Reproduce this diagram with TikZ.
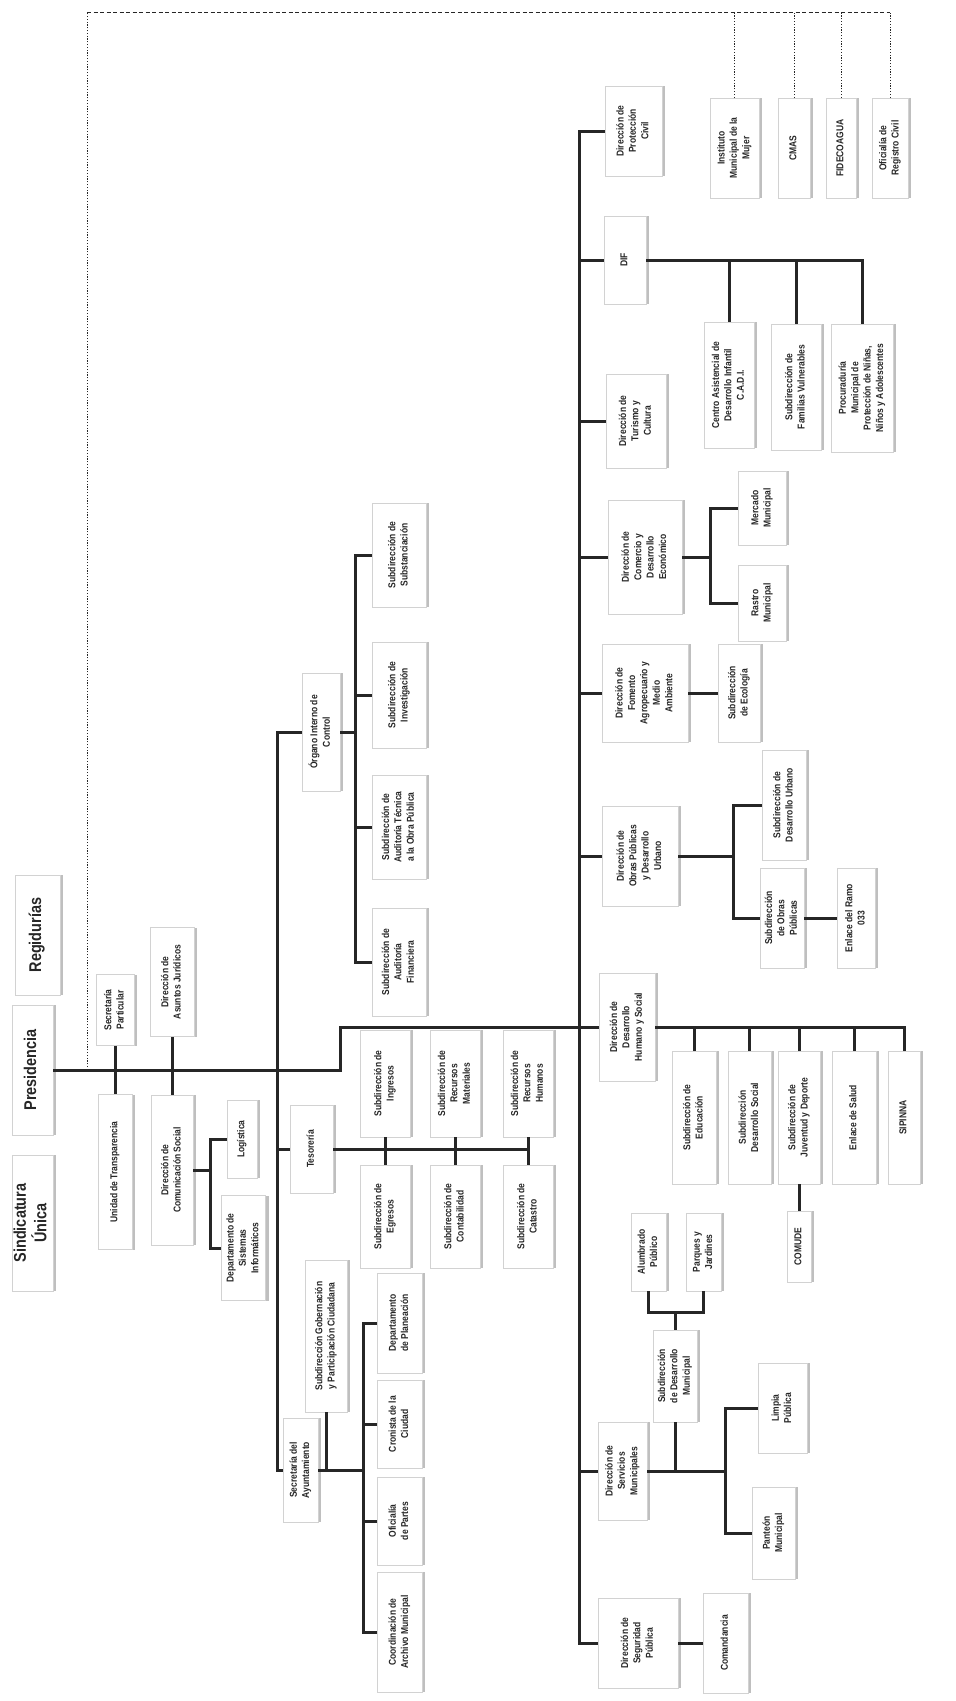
\documentclass[tikz,border=0pt]{standalone}
\usepackage{graphicx}
\usepackage{fontspec}
\setmainfont{Liberation Sans}[FakeStretch=0.85]
\usetikzlibrary{shadows}
\renewcommand{\arraystretch}{0.92}
\newcommand{\vtxt}[1]{\rotatebox{90}{\begin{tabular}{@{}c@{}}#1\end{tabular}}}

\begin{document}
\begin{tikzpicture}[x=1pt,y=-1pt,
    unit/.style={draw=gray!35, line width=0.5pt, fill=white, inner sep=0pt,
      font=\bfseries\fontsize{10}{13.5}\selectfont, text=black!85,
      drop shadow={shadow xshift=3pt, shadow yshift=0pt, fill=gray!50, opacity=1}},
    bigunit/.style={unit, font=\bfseries\fontsize{17}{19.5}\selectfont},
    link/.style={line width=3pt, black!85},
    dashlink/.style={line width=0.8pt, black!85, dash pattern=on 4pt off 2.5pt},
    dotlink/.style={line width=0.9pt, black!85, dash pattern=on 1.2pt off 1.6pt}]
    \useasboundingbox (0,0) rectangle (956,1701);

    % Presidencia, Sindicatura, Regidurias
    \node[bigunit, minimum width=41, minimum height=136] (sindicatura) at (32.5,1223) {\vtxt{Sindicatura\\Única}};
    \node[bigunit, minimum width=41, minimum height=130] (presidencia) at (32.5,1070) {\vtxt{Presidencia}};
    \node[bigunit, minimum width=45, minimum height=120] (regidurias) at (37.5,935) {\vtxt{Regidurías}};

    % staff units
    \node[unit, minimum width=38, minimum height=71] (secpart) at (115,1010) {\vtxt{Secretaría\\Particular}};
    \node[unit, minimum width=34, minimum height=155] (transparencia) at (115,1172) {\vtxt{Unidad de Transparencia}};
    \node[unit, minimum width=44, minimum height=109] (juridicos) at (172,982) {\vtxt{Dirección de\\Asuntos Jurídicos}};
    \node[unit, minimum width=42, minimum height=150] (comsocial) at (172,1170) {\vtxt{Dirección de\\Comunicación Social}};
    \node[unit, minimum width=30, minimum height=78] (logistica) at (242,1139) {\vtxt{Logística}};
    \node[unit, minimum width=44, minimum height=105] (sistemas) at (243.5,1248) {\vtxt{Departamento de\\Sistemas\\Informáticos}};

    % Tesoreria
    \node[unit, minimum width=43, minimum height=88] (tesoreria) at (311.5,1149) {\vtxt{Tesorería}};
    \node[unit, minimum width=50, minimum height=107] (ingresos) at (385,1083.5) {\vtxt{Subdirección de\\Ingresos}};
    \node[unit, minimum width=50, minimum height=103] (egresos) at (385,1216.5) {\vtxt{Subdirección de\\Egresos}};
    \node[unit, minimum width=50, minimum height=107] (rmateriales) at (455,1083.5) {\vtxt{Subdirección de\\Recursos\\Materiales}};
    \node[unit, minimum width=50, minimum height=103] (contabilidad) at (455,1216.5) {\vtxt{Subdirección de\\Contabilidad}};
    \node[unit, minimum width=50, minimum height=107] (rhumanos) at (528,1083.5) {\vtxt{Subdirección de\\Recursos\\Humanos}};
    \node[unit, minimum width=50, minimum height=103] (catastro) at (528,1216.5) {\vtxt{Subdirección de\\Catastro}};

    % Organo Interno de Control
    \node[unit, minimum width=38, minimum height=118] (organo) at (321,732) {\vtxt{Órgano Interno de\\Control}};
    \node[unit, minimum width=54, minimum height=104] (substanciacion) at (399,555) {\vtxt{Subdirección de\\Substanciación}};
    \node[unit, minimum width=54, minimum height=106] (investigacion) at (399,695) {\vtxt{Subdirección de\\Investigación}};
    \node[unit, minimum width=54, minimum height=104] (tecnica) at (399,827) {\vtxt{Subdirección de\\Auditoría Técnica\\a la Obra Pública}};
    \node[unit, minimum width=54, minimum height=108] (financiera) at (399,962) {\vtxt{Subdirección de\\Auditoría\\Financiera}};

    % Secretaria del Ayuntamiento
    \node[unit, minimum width=35, minimum height=104] (secayto) at (300.5,1470) {\vtxt{Secretaría del\\Ayuntamiento}};
    \node[unit, minimum width=42, minimum height=152] (gobernacion) at (326,1336) {\vtxt{Subdirección Gobernación\\y Participación Ciudadana}};
    \node[unit, minimum width=45, minimum height=100] (planeacion) at (399.5,1323) {\vtxt{Departamento\\de Planeación}};
    \node[unit, minimum width=45, minimum height=88] (cronista) at (399.5,1424) {\vtxt{Cronista de la\\Ciudad}};
    \node[unit, minimum width=45, minimum height=88] (oficpartes) at (399.5,1521) {\vtxt{Oficialía\\de Partes}};
    \node[unit, minimum width=45, minimum height=120] (archivo) at (399.5,1632) {\vtxt{Coordinación de\\Archivo Municipal}};

    % Direcciones
    \node[unit, minimum width=57, minimum height=90] (protcivil) at (633.5,131) {\vtxt{Dirección de\\Protección\\Civil}};
    \node[unit, minimum width=42, minimum height=88] (dif) at (625,260) {\vtxt{DIF}};
    \node[unit, minimum width=60, minimum height=94] (turismo) at (636,421) {\vtxt{Dirección de\\Turismo y\\Cultura}};
    \node[unit, minimum width=74, minimum height=114] (comercio) at (645,557) {\vtxt{Dirección de\\Comercio y\\Desarrollo\\Económico}};
    \node[unit, minimum width=86, minimum height=98] (fomento) at (645,693) {\vtxt{Dirección de\\Fomento\\Agropecuario y\\Medio\\Ambiente}};
    \node[unit, minimum width=76, minimum height=100] (obras) at (640,856) {\vtxt{Dirección de\\Obras Públicas\\y Desarrollo\\Urbano}};
    \node[unit, minimum width=56, minimum height=108] (dhs) at (627,1027) {\vtxt{Dirección de\\Desarrollo\\Humano y Social}};
    \node[unit, minimum width=49, minimum height=98] (servicios) at (622.5,1471) {\vtxt{Dirección de\\Servicios\\Municipales}};
    \node[unit, minimum width=80, minimum height=90] (seguridad) at (638,1643) {\vtxt{Dirección de\\Seguridad\\Pública}};

    % DIF
    \node[unit, minimum width=50, minimum height=126] (cadi) at (729,385) {\vtxt{Centro Asistencial de\\Desarrollo Infantil\\C.A.D.I.}};
    \node[unit, minimum width=50, minimum height=126] (familias) at (796,387) {\vtxt{Subdirección de\\Familias Vulnerables}};
    \node[unit, minimum width=62, minimum height=128] (procuraduria) at (862,388) {\vtxt{Procuraduría\\Municipal de\\Protección de Niñas,\\Niños y Adolescentes}};

    % Comercio, Fomento, Obras
    \node[unit, minimum width=48, minimum height=74] (mercado) at (762,508) {\vtxt{Mercado\\Municipal}};
    \node[unit, minimum width=48, minimum height=76] (rastro) at (762,603) {\vtxt{Rastro\\Municipal}};
    \node[unit, minimum width=42, minimum height=98] (ecologia) at (739,693) {\vtxt{Subdirección\\de Ecología}};
    \node[unit, minimum width=44, minimum height=110] (subdu) at (784,805) {\vtxt{Subdirección de\\Desarrollo Urbano}};
    \node[unit, minimum width=44, minimum height=100] (subop) at (782,918) {\vtxt{Subdirección\\de Obras\\Públicas}};
    \node[unit, minimum width=38, minimum height=100] (enlace033) at (856,918) {\vtxt{Enlace del Ramo\\033}};

    % Desarrollo Humano y Social
    \node[unit, minimum width=44, minimum height=133] (educacion) at (694,1117.5) {\vtxt{Subdirección de\\Educación}};
    \node[unit, minimum width=43, minimum height=133] (dsocial) at (749.5,1117.5) {\vtxt{Subdirección\\Desarrollo Social}};
    \node[unit, minimum width=42, minimum height=133] (juventud) at (799,1117.5) {\vtxt{Subdirección de\\Juventud y Deporte}};
    \node[unit, minimum width=44, minimum height=133] (esalud) at (854,1117.5) {\vtxt{Enlace de Salud}};
    \node[unit, minimum width=32, minimum height=133] (sipinna) at (904,1117.5) {\vtxt{SIPINNA}};
    \node[unit, minimum width=24, minimum height=71] (comude) at (799,1246.5) {\vtxt{COMUDE}};

    % Servicios Municipales, Seguridad
    \node[unit, minimum width=35, minimum height=78] (alumbrado) at (648.5,1252) {\vtxt{Alumbrado\\Público}};
    \node[unit, minimum width=35, minimum height=78] (parques) at (703.5,1252) {\vtxt{Parques y\\Jardines}};
    \node[unit, minimum width=44, minimum height=92] (subdm) at (675,1376) {\vtxt{Subdirección\\de Desarrollo\\Municipal}};
    \node[unit, minimum width=49, minimum height=90] (limpia) at (782.5,1408) {\vtxt{Limpia\\Pública}};
    \node[unit, minimum width=43, minimum height=92] (panteon) at (773.5,1533) {\vtxt{Panteón\\Municipal}};
    \node[unit, minimum width=45, minimum height=100] (comandancia) at (725.5,1643) {\vtxt{Comandancia}};

    % Organismos (dashed)
    \node[unit, minimum width=49, minimum height=100] (instituto) at (734.5,148) {\vtxt{Instituto\\Municipal de la\\Mujer}};
    \node[unit, minimum width=32, minimum height=100] (cmas) at (794,148) {\vtxt{CMAS}};
    \node[unit, minimum width=30, minimum height=100] (fidecoagua) at (841,148) {\vtxt{FIDECOAGUA}};
    \node[unit, minimum width=36, minimum height=100] (oficialia) at (890,148) {\vtxt{Oficialía de\\Registro Civil}};

    % main lines
    \coordinate (pbend) at (340,1070);
    \coordinate (lbot) at (277,1470);
    \coordinate (rbot) at (579,1643);
    \draw[link] (presidencia.east) -- (pbend) |- (dhs.west);
    \draw[link] (organo.west) -| (lbot) -- (secayto.west);
    \draw[link] (protcivil.west) -| (rbot) -- (seguridad.west);
    \draw[link] (tesoreria.west) -- (tesoreria.west -| lbot);
    \draw[link] (dif.west) -- (dif.west -| rbot);
    \draw[link] (turismo.west) -- (turismo.west -| rbot);
    \draw[link] (comercio.west) -- (comercio.west -| rbot);
    \draw[link] (fomento.west) -- (fomento.west -| rbot);
    \draw[link] (obras.west) -- (obras.west -| rbot);
    \draw[link] (servicios.west) -- (servicios.west -| rbot);

    % dashed coordination
    \coordinate (dbot) at (87,1070);
    \coordinate (dtop) at (87,12);
    \draw[dotlink] (dbot) -- (dtop);
    \draw[dashlink] (dtop) -- (dtop -| oficialia.north);
    \draw[dotlink] (instituto.north) -- (instituto.north |- dtop);
    \draw[dotlink] (cmas.north) -- (cmas.north |- dtop);
    \draw[dotlink] (fidecoagua.north) -- (fidecoagua.north |- dtop);
    \draw[dotlink] (oficialia.north) -- (oficialia.north |- dtop);

    % staff
    \draw[link] (secpart.south) -- (transparencia.north);
    \draw[link] (juridicos.south) -- (comsocial.north);
    \coordinate (csb) at (210,1170);
    \draw[link] (comsocial.east) -- (csb);
    \draw[link] (logistica.west) -| (csb) |- (sistemas.west);

    % Tesoreria
    \draw[link] (tesoreria.east) -- (tesoreria.east -| catastro.north);
    \draw[link] (ingresos.south) -- (egresos.north);
    \draw[link] (rmateriales.south) -- (contabilidad.north);
    \draw[link] (rhumanos.south) -- (catastro.north);

    % Organo Interno de Control
    \coordinate (ocb) at (355,732);
    \draw[link] (organo.east) -- (ocb);
    \draw[link] (substanciacion.west) -| (ocb) |- (financiera.west);
    \draw[link] (investigacion.west) -- (investigacion.west -| ocb);
    \draw[link] (tecnica.west) -- (tecnica.west -| ocb);

    % Secretaria del Ayuntamiento
    \coordinate (scb) at (363,1470);
    \draw[link] (secayto.east) -- (scb);
    \draw[link] (gobernacion.south) -- (gobernacion.south |- scb);
    \draw[link] (planeacion.west) -| (scb) |- (archivo.west);
    \draw[link] (cronista.west) -- (cronista.west -| scb);
    \draw[link] (oficpartes.west) -- (oficpartes.west -| scb);

    % DIF
    \draw[link] (dif.east) -| (procuraduria.north);
    \draw[link] (cadi.north) -- (cadi.north |- dif.east);
    \draw[link] (familias.north) -- (familias.north |- dif.east);

    % Comercio, Fomento, Obras
    \coordinate (ccb) at (710,557);
    \draw[link] (comercio.east) -- (ccb);
    \draw[link] (mercado.west) -| (ccb) |- (rastro.west);
    \draw[link] (fomento.east) -- (ecologia.west);
    \coordinate (obcb) at (733,856);
    \draw[link] (obras.east) -- (obcb);
    \draw[link] (subdu.west) -| (obcb) |- (subop.west);
    \draw[link] (subop.east) -- (enlace033.west);

    % Desarrollo Humano y Social
    \draw[link] (dhs.east) -| (sipinna.north);
    \draw[link] (educacion.north) -- (educacion.north |- dhs.east);
    \draw[link] (dsocial.north) -- (dsocial.north |- dhs.east);
    \draw[link] (juventud.north) -- (juventud.north |- dhs.east);
    \draw[link] (esalud.north) -- (esalud.north |- dhs.east);
    \draw[link] (juventud.south) -- (comude.north);

    % Servicios Municipales
    \coordinate (apb) at (675,1312);
    \draw[link] (alumbrado.south) |- (apb) -| (parques.south);
    \draw[link] (apb) -- (subdm.north);
    \coordinate (svb) at (725,1471);
    \draw[link] (servicios.east) -- (svb);
    \draw[link] (subdm.south) -- (subdm.south |- svb);
    \draw[link] (limpia.west) -| (svb) |- (panteon.west);

    % Seguridad
    \draw[link] (seguridad.east) -- (comandancia.west);
\end{tikzpicture}
\end{document}
